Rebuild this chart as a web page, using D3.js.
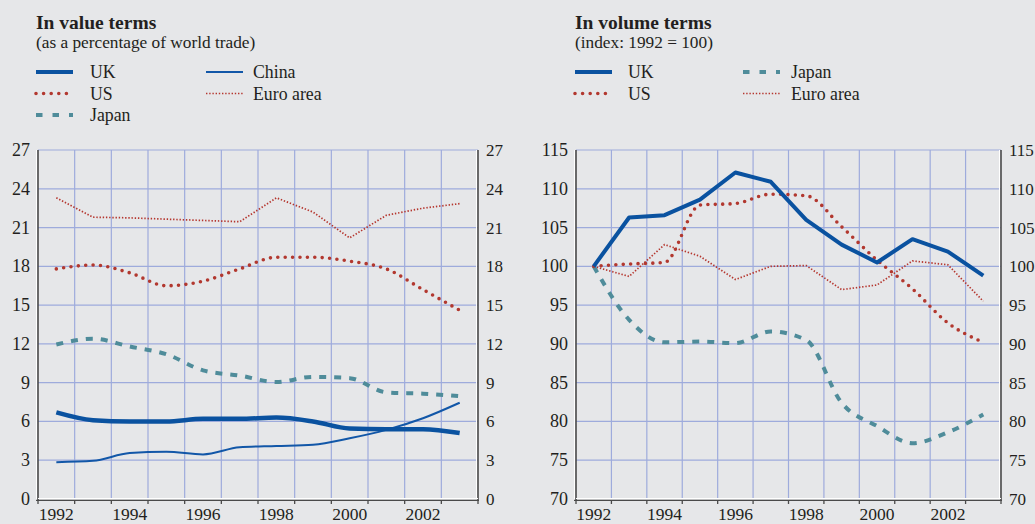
<!DOCTYPE html>
<html><head><meta charset="utf-8">
<script src="https://cdn.jsdelivr.net/npm/d3@7"></script>
<style>
html,body{margin:0;padding:0;background:#e6e7e9;}
svg{display:block;font-family:"Liberation Serif","Times New Roman",serif;}
</style></head>
<body>
<svg id="c" width="1035" height="524"></svg>
<script>
const years = [1992,1993,1994,1995,1996,1997,1998,1999,2000,2001,2002,2003];
const tickYears = [1992,1994,1996,1998,2000,2002];

// In value terms (% of world trade)
const valUK    = [6.7,6.1,6.0,6.0,6.2,6.2,6.3,6.0,5.45,5.4,5.4,5.1];
const valChina = [2.85,2.95,3.55,3.65,3.45,4.0,4.1,4.2,4.7,5.35,6.25,7.45];
const valUS    = [17.8,18.1,17.5,16.5,16.85,17.8,18.7,18.7,18.4,17.8,16.2,14.6];
const valEuro  = [23.3,21.8,21.75,21.65,21.55,21.45,23.3,22.2,20.2,21.95,22.5,22.85];
const valJapan = [11.95,12.4,11.8,11.2,9.95,9.55,9.05,9.45,9.35,8.25,8.15,7.95];
const valTicks = [0,3,6,9,12,15,18,21,24,27];

// In volume terms (index 1992=100)
const volUK    = [100,106.3,106.6,108.6,112.1,110.9,106.0,102.8,100.5,103.5,101.9,98.8];
const volUS    = [100,100.3,100.5,107.9,108.1,109.3,109.1,105.1,100.8,97.1,92.7,90.2];
const volEuro  = [100,98.7,102.8,101.3,98.3,100.0,100.1,97.0,97.6,100.7,100.2,95.5];
const volJapan = [100,93.1,90.2,90.3,90.1,91.6,90.5,82.4,79.4,77.2,78.6,80.9];
const volTicks = [70,75,80,85,90,95,100,105,110,115];

const C = {uk:"#0a52a0", china:"#1257a8", us:"#b2382f", euro:"#b5362e", japan:"#4f8c9a", grid:"#9eabdc", text:"#231f20", axis:"#4a4a4a"};
const STY = {
  UK:{stroke:C.uk,width:4.5,dash:null,cap:"butt"},
  China:{stroke:C.china,width:2,dash:null,cap:"butt"},
  US:{stroke:C.us,width:3.6,dash:"0 7.4",cap:"round"},
  Euro:{stroke:C.euro,width:1.7,dash:"1.4 1.8",cap:"butt"},
  Japan:{stroke:C.japan,width:4,dash:"7 8",cap:"butt"}
};

const svg = d3.select("#c");

function panel(opts){
  const g = svg.append("g");
  const x = d3.scaleBand().domain(years).range([opts.x0,opts.x1]).padding(0);
  const y = d3.scaleLinear().domain([opts.ticks[0],opts.ticks[opts.ticks.length-1]]).range([499,150]);
  // title
  g.append("text").attr("x",opts.tx).attr("y",29).attr("font-size",19.5).attr("font-weight","bold").attr("fill",C.text).text(opts.title);
  g.append("text").attr("x",opts.tx).attr("y",47.5).attr("font-size",17.3).attr("fill",C.text).text(opts.subtitle);
  // legend
  opts.legend.forEach(l=>{
    const s = STY[l.key];
    const ly = 72 + l.row*21.5;
    g.append("line").attr("x1",l.lx).attr("x2",l.lx+37).attr("y1",ly).attr("y2",ly)
      .attr("stroke",s.stroke).attr("stroke-width",l.key==="UK"?4:(l.key==="Japan"?4:s.width))
      .attr("stroke-dasharray",l.key==="Japan"?"6.5 10":(l.key==="US"?"0 7.6":s.dash))
      .attr("stroke-linecap",s.cap);
    g.append("text").attr("x",l.tx).attr("y",ly+6).attr("font-size",17.8).attr("fill",C.text).text(l.label);
  });
  // gridlines
  opts.ticks.forEach(t=>{
    if(t===opts.ticks[0]) return;
    g.append("line").attr("x1",opts.x0).attr("x2",opts.x1).attr("y1",y(t)).attr("y2",y(t))
      .attr("stroke",C.grid).attr("stroke-width",1.2);
  });
  years.slice(1).forEach(yr=>{
    g.append("line").attr("x1",x(yr)).attr("x2",x(yr)).attr("y1",150).attr("y2",499)
      .attr("stroke",C.grid).attr("stroke-width",1.2);
  });
  // axes
  g.append("line").attr("x1",opts.x0-1.5).attr("x2",opts.x0-1.5).attr("y1",150).attr("y2",500).attr("stroke","#fff").attr("stroke-width",1);
  g.append("line").attr("x1",opts.x0).attr("x2",opts.x0).attr("y1",150).attr("y2",501).attr("stroke",C.axis).attr("stroke-width",1.6);
  g.append("line").attr("x1",opts.x1-1.5).attr("x2",opts.x1-1.5).attr("y1",150).attr("y2",499).attr("stroke","#fff").attr("stroke-width",1);
  g.append("line").attr("x1",opts.x1).attr("x2",opts.x1).attr("y1",150).attr("y2",501).attr("stroke",C.axis).attr("stroke-width",1.6);
  g.append("line").attr("x1",opts.x0).attr("x2",opts.x1).attr("y1",498.5).attr("y2",498.5).attr("stroke","#fff").attr("stroke-width",1.2);
  g.append("line").attr("x1",opts.x0-2).attr("x2",opts.x1+1).attr("y1",500.3).attr("y2",500.3).attr("stroke",C.axis).attr("stroke-width",1.3);
  const bounds = years.map(yr=>x(yr)).concat([opts.x1]);
  bounds.forEach(b=>{
    g.append("line").attr("x1",b).attr("x2",b).attr("y1",500).attr("y2",504).attr("stroke",C.axis).attr("stroke-width",1.3);
  });
  // tick labels
  opts.ticks.forEach(t=>{
    g.append("text").attr("x",opts.x0-8).attr("y",y(t)+6).attr("text-anchor","end").attr("font-size",18).attr("fill",C.text).text(t);
    g.append("text").attr("x",opts.x1+8).attr("y",y(t)+6).attr("text-anchor","start").attr("font-size",17).attr("fill",C.text).text(t);
  });
  tickYears.forEach(yr=>{
    g.append("text").attr("x",x(yr)+x.bandwidth()/2).attr("y",519.5).attr("text-anchor","middle").attr("font-size",17.5).attr("fill",C.text).text(yr);
  });
  // series
  opts.series.forEach(s=>{
    const st = STY[s.key];
    const line = d3.line().x((d,i)=>x(years[i])+x.bandwidth()/2).y(d=>y(d))
      .curve(s.smooth?d3.curveMonotoneX:d3.curveLinear);
    g.append("path").attr("d",line(s.values)).attr("fill","none")
      .attr("stroke",st.stroke).attr("stroke-width",s.width||st.width)
      .attr("stroke-dasharray",st.dash).attr("stroke-linecap",st.cap).attr("stroke-linejoin","round");
  });
}

panel({
  x0:38, x1:478, tx:36, ticks:valTicks,
  title:"In value terms", subtitle:"(as a percentage of world trade)",
  legend:[
    {key:"UK",label:"UK",row:0,lx:36,tx:90},
    {key:"US",label:"US",row:1,lx:36,tx:90},
    {key:"Japan",label:"Japan",row:2,lx:36,tx:90},
    {key:"China",label:"China",row:0,lx:206,tx:253},
    {key:"Euro",label:"Euro area",row:1,lx:206,tx:253}
  ],
  series:[
    {key:"Euro",values:valEuro,smooth:false},
    {key:"US",values:valUS,smooth:true},
    {key:"Japan",values:valJapan,smooth:true},
    {key:"China",values:valChina,smooth:true},
    {key:"UK",values:valUK,smooth:true}
  ]
});

panel({
  x0:576, x1:1001, tx:575, ticks:volTicks,
  title:"In volume terms", subtitle:"(index: 1992 = 100)",
  legend:[
    {key:"UK",label:"UK",row:0,lx:575,tx:628},
    {key:"US",label:"US",row:1,lx:575,tx:628},
    {key:"Japan",label:"Japan",row:0,lx:743,tx:791},
    {key:"Euro",label:"Euro area",row:1,lx:743,tx:791}
  ],
  series:[
    {key:"Euro",values:volEuro,smooth:false},
    {key:"Japan",values:volJapan,smooth:true},
    {key:"US",values:volUS,smooth:true},
    {key:"UK",values:volUK,smooth:false,width:4}
  ]
});
</script>
</body></html>
